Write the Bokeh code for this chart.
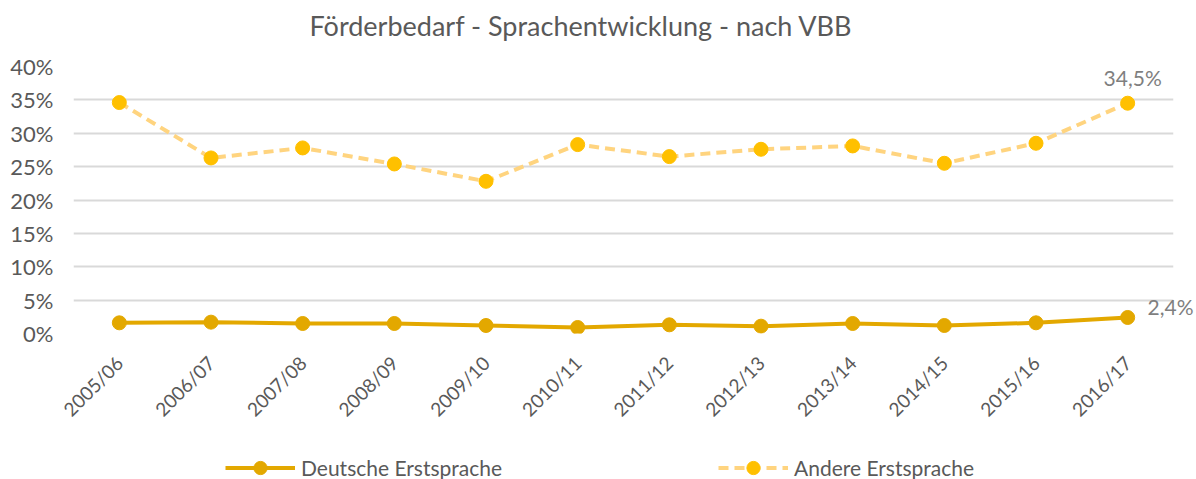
import math
from bokeh.plotting import figure
from bokeh.layouts import column
from bokeh.core.properties import value
from bokeh.models import (FactorRange, Range1d, NumeralTickFormatter, SingleIntervalTicker,
                          FixedTicker, LinearAxis, Legend, LegendItem, LabelSet, Label,
                          ColumnDataSource, CustomJSTickFormatter)
from bokeh.embed import file_html
from bokeh.resources import INLINE

# ---- data ----
categories = ["2005/06", "2006/07", "2007/08", "2008/09", "2009/10", "2010/11",
              "2011/12", "2012/13", "2013/14", "2014/15", "2015/16", "2016/17"]
deutsche = [0.016, 0.017, 0.015, 0.015, 0.012, 0.009, 0.013, 0.011, 0.015, 0.012, 0.016, 0.024]
andere = [0.346, 0.263, 0.278, 0.254, 0.228, 0.283, 0.265, 0.276, 0.281, 0.255, 0.285, 0.345]
series_names = ["Deutsche Erstsprache", "Andere Erstsprache"]
title_text = "Förderbedarf - Sprachentwicklung - nach VBB"

FONT = "Lato"
GREY = "#595959"
LBL_GREY = "#7F7F7F"
C_DE = "#E3A800"
C_AN_LINE = "#FFD47F"
C_AN_MARK = "#FFC000"
W = 1196


def strip(height):
    f = figure(width=W, height=height, output_backend="svg", toolbar_location=None,
               x_range=Range1d(0, 1), y_range=Range1d(1, 2), x_axis_type=None, y_axis_type=None,
               min_border_left=0, min_border_right=0, min_border_top=0, min_border_bottom=0)
    f.outline_line_color = None
    f.background_fill_color = "white"
    f.border_fill_color = "white"
    return f


# ---- title strip ----
t = strip(50)
t.add_layout(Label(x=236, y=25, x_units="screen", y_units="screen", text=title_text,
                   text_font=FONT, text_font_size="27px", text_color=GREY,
                   text_baseline="alphabetic", text_align="left"))

# ---- main chart ----
p = figure(x_range=FactorRange(*categories), y_range=Range1d(0, 0.40), title=None,
           width=W, height=396, output_backend="svg", toolbar_location=None,
           min_border_left=73, min_border_right=22, min_border_top=16, min_border_bottom=113)
p.outline_line_color = None
p.background_fill_color = "white"
p.border_fill_color = "white"

p.xgrid.grid_line_color = None
p.ygrid.grid_line_color = "#d9d9d9"
p.ygrid.grid_line_width = 2

p.yaxis.ticker = SingleIntervalTicker(interval=0.05)
p.yaxis.formatter = NumeralTickFormatter(format="0%")
for ax in (p.xaxis, p.yaxis):
    ax.axis_line_color = None
    ax.major_tick_line_color = None
    ax.minor_tick_line_color = None
    ax.major_tick_out = 0
    ax.major_tick_in = 0
    ax.major_label_text_color = GREY
    ax.major_label_text_font = FONT
    ax.major_label_text_font_size = "22px"
p.xaxis.major_label_text_font_size = "19px"
p.yaxis.major_label_standoff = 16
p.xaxis.major_label_orientation = math.pi / 4
p.xaxis.major_label_standoff = 26

l1 = p.line(categories, deutsche, line_color=C_DE, line_width=4)
c1 = p.scatter(categories, deutsche, size=14, fill_color=C_DE, line_color=C_DE)
l2 = p.line(categories, andere, line_color=C_AN_LINE, line_width=4, line_dash="10 6")
c2 = p.scatter(categories, andere, size=14, fill_color=C_AN_MARK, line_color=C_AN_MARK)


def fmt(v):
    return f"{v*100:.1f}%".replace(".", ",")


# data label of the last "Andere" point (inside the plot area)
src_an = ColumnDataSource(dict(x=[categories[-1]], y=[andere[-1]], t=[fmt(andere[-1])]))
p.add_layout(LabelSet(x="x", y="y", text="t", source=src_an, text_align="center",
                      text_baseline="middle", x_offset=5, y_offset=26, text_font=value(FONT),
                      text_font_size="21px", text_color=LBL_GREY))

# data label of the last "Deutsche" point: it reaches past the plot area, so it is
# drawn as the single tick label of a bare axis on the right
p.extra_y_ranges = {"lbl": Range1d(-0.0164, 0.40 - 0.0164)}
lab_axis = LinearAxis(y_range_name="lbl", ticker=FixedTicker(ticks=[deutsche[-1]]),
                      formatter=CustomJSTickFormatter(
                          code="return (tick*100).toFixed(1).replace('.', ',') + '%'"),
                      axis_line_color=None, major_tick_line_color=None,
                      minor_tick_line_color=None, major_tick_out=0, major_tick_in=0,
                      minor_tick_out=0, major_label_standoff=-26, major_label_text_font=FONT,
                      major_label_text_font_size="21px", major_label_text_color=LBL_GREY)
p.add_layout(lab_axis, "right")

# ---- legend strip ----
q = strip(33)
idx = list(range(len(categories)))
ql1 = q.line(idx, deutsche, line_color=C_DE, line_width=4)
qc1 = q.scatter(idx, deutsche, size=14, fill_color=C_DE, line_color=C_DE)
ql2 = q.line(idx, andere, line_color=C_AN_LINE, line_width=4, line_dash="10 6")
qc2 = q.scatter(idx, andere, size=14, fill_color=C_AN_MARK, line_color=C_AN_MARK)

legend = Legend(items=[LegendItem(label=series_names[0], renderers=[ql1, qc1]),
                       LegendItem(label=series_names[1], renderers=[ql2, qc2])],
                location=(152, -5), orientation="horizontal", border_line_color=None,
                background_fill_alpha=0, padding=0, margin=0, spacing=0,
                label_text_font=FONT, label_text_font_size="21px",
                label_text_color=GREY, glyph_width=70, glyph_height=33,
                label_standoff=6, label_width=417)
q.add_layout(legend)

layout = column(t, p, q, spacing=0)
open("out.html", "w").write(file_html(layout, INLINE))
